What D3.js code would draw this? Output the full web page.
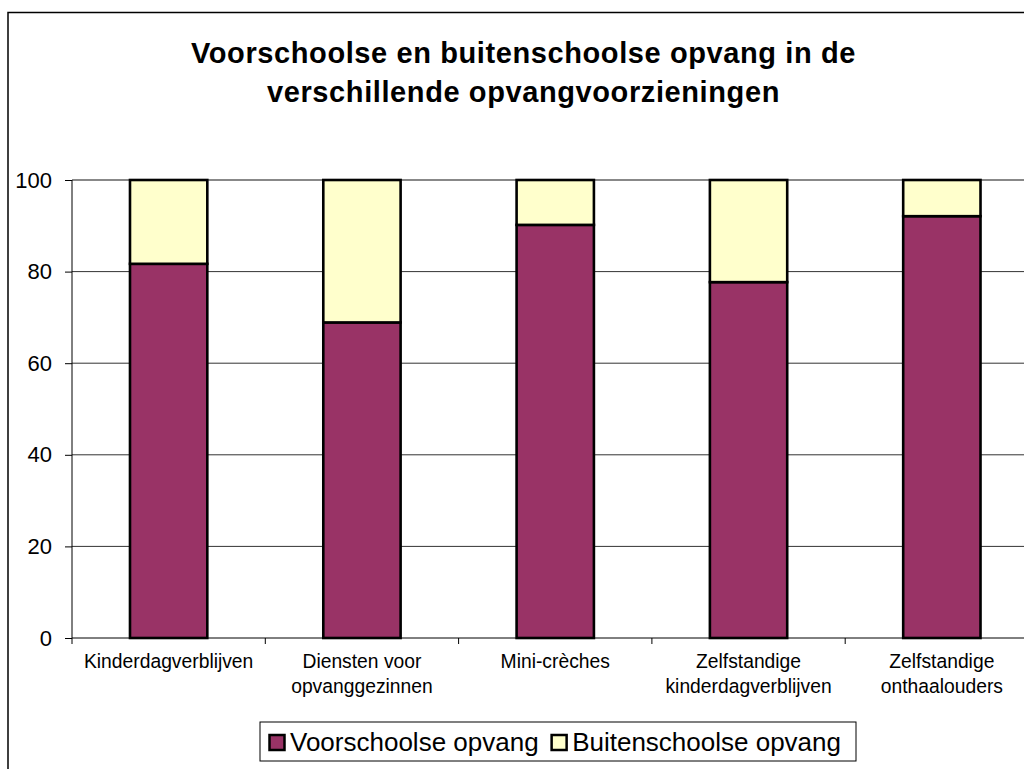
<!DOCTYPE html>
<html>
<head>
<meta charset="utf-8">
<script src="https://cdn.jsdelivr.net/npm/d3@7"></script>
<style>
  body { margin: 0; background: #fff; }
  text { font-family: "Liberation Sans", Arial, sans-serif; fill: #000; }
</style>
</head>
<body>
<div id="chart"></div>
<script>
// data
const categories = [
  ["Kinderdagverblijven"],
  ["Diensten voor", "opvanggezinnen"],
  ["Mini-crèches"],
  ["Zelfstandige", "kinderdagverblijven"],
  ["Zelfstandige", "onthaalouders"]
];
const voorschools = [81.7, 68.9, 90.2, 77.7, 92.1];
const buitenschools = [18.3, 31.1, 9.8, 22.3, 7.9];
const seriesNames = ["Voorschoolse opvang", "Buitenschoolse opvang"];
const yTicks = [0, 20, 40, 60, 80, 100];
const titleLines = ["Voorschoolse en buitenschoolse opvang in de", "verschillende opvangvoorzieningen"];

const colors = ["#993366", "#FFFFCC"];

/* dimensions */
const W = 1024, H = 769;
const plot = {left: 72, right: 1038.5, top: 180, bottom: 638};

const svg = d3.select("#chart").append("svg")
  .attr("width", W)
  .attr("height", H);

/* outer chart border */
svg.append("rect")
  .attr("x", 8).attr("y", 12.5)
  .attr("width", 1100).attr("height", 800)
  .attr("fill", "#fff")
  .attr("stroke", "#000")
  .attr("stroke-width", 1.5);

/* title */
svg.append("text")
  .attr("x", 523.5)
  .attr("text-anchor", "middle")
  .style("font-weight", "bold")
  .style("font-size", "29px")
  .style("letter-spacing", "0.6px")
  .selectAll("tspan")
  .data(titleLines)
  .join("tspan")
    .attr("x", 523.5)
    .attr("y", (d, i) => 63 + i * 39)
    .text(d => d);

/* scales */
const keys = categories.map(d => d.join(" "));
const xScale = d3.scaleBand()
  .domain(keys)
  .range([plot.left, plot.right])
  .paddingInner(0.6)
  .paddingOuter(0.3);

const yScale = d3.scaleLinear()
  .domain([0, 100])
  .range([plot.bottom, plot.top]);

/* gridlines */
svg.append("g")
  .selectAll("line")
  .data(yTicks.filter(d => d > 0 && d < 100))
  .join("line")
    .attr("x1", plot.left).attr("x2", plot.right)
    .attr("y1", d => yScale(d)).attr("y2", d => yScale(d))
    .attr("stroke", "#333")
    .attr("stroke-width", 1);

/* plot area top border (gray) */
svg.append("line")
  .attr("x1", plot.left).attr("x2", plot.right)
  .attr("y1", yScale(100)).attr("y2", yScale(100))
  .attr("stroke", "#888")
  .attr("stroke-width", 2);

/* stacked bars */
const rows = keys.map((k, i) => ({key: k, v: voorschools[i], b: buitenschools[i]}));
const stacked = d3.stack().keys(["v", "b"])(rows);

svg.append("g")
  .selectAll("g")
  .data(stacked)
  .join("g")
    .attr("fill", (d, i) => colors[i])
  .selectAll("rect")
  .data(d => d)
  .join("rect")
    .attr("x", d => xScale(d.data.key))
    .attr("width", xScale.bandwidth())
    .attr("y", d => yScale(d[1]))
    .attr("height", d => yScale(d[0]) - yScale(d[1]))
    .attr("stroke", "#000")
    .attr("stroke-width", 2.6);

/* y axis */
const yAxis = d3.axisLeft(yScale)
  .tickValues(yTicks)
  .tickSize(7)
  .tickPadding(13);

const yG = svg.append("g")
  .attr("transform", `translate(${plot.left},0)`)
  .call(yAxis);
yG.select(".domain").attr("stroke", "#000").attr("d", `M0,${plot.bottom}V${plot.top}`);
yG.selectAll(".tick line").attr("stroke", "#000");
yG.selectAll(".tick text")
  .style("font-size", "22px")
  .style("font-family", "Liberation Sans, Arial, sans-serif")
  .attr("fill", "#000");

/* x axis baseline and tick marks between categories */
svg.append("line")
  .attr("x1", plot.left).attr("x2", plot.right)
  .attr("y1", plot.bottom).attr("y2", plot.bottom)
  .attr("stroke", "#000");

const step = xScale.step();
const boundaries = d3.range(keys.length + 1).map(i => plot.left + i * step);
svg.append("g")
  .selectAll("line")
  .data(boundaries)
  .join("line")
    .attr("x1", d => d).attr("x2", d => d)
    .attr("y1", plot.bottom).attr("y2", plot.bottom + 6)
    .attr("stroke", "#000");

/* category labels */
svg.append("g")
  .selectAll("text")
  .data(categories)
  .join("text")
    .attr("text-anchor", "middle")
    .style("font-size", "19.3px")
    .each(function(d, i) {
      const cx = xScale(keys[i]) + xScale.bandwidth() / 2;
      d3.select(this).selectAll("tspan")
        .data(d)
        .join("tspan")
          .attr("x", cx)
          .attr("y", (t, j) => 668 + j * 25)
          .text(t => t);
    });

/* legend */
const legend = svg.append("g");
legend.append("rect")
  .attr("x", 260).attr("y", 722)
  .attr("width", 596).attr("height", 39)
  .attr("fill", "#fff")
  .attr("stroke", "#000")
  .attr("stroke-width", 1);

let lx = 269.5;
seriesNames.forEach((name, i) => {
  legend.append("rect")
    .attr("x", lx).attr("y", 735)
    .attr("width", 15).attr("height", 15)
    .attr("fill", colors[i])
    .attr("stroke", "#000")
    .attr("stroke-width", 2.5);
  const t = legend.append("text")
    .attr("x", lx + 20.5)
    .attr("y", 750.5)
    .style("font-size", "26px")
    .text(name);
  lx += 20.5 + t.node().getComputedTextLength() + 13;
});
</script>
</body>
</html>
